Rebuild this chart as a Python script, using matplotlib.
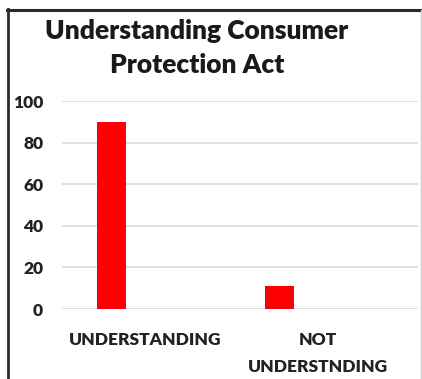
import matplotlib.pyplot as plt
from matplotlib.lines import Line2D

categories = ['UNDERSTANDING', 'NOT\nUNDERSTNDING']
values = [90, 11]
yticks = [0, 20, 40, 60, 80, 100]

W, H = 422, 379
fig = plt.figure(figsize=(W / 100, H / 100), dpi=100)
plt.rcParams['font.family'] = ['Lato', 'DejaVu Sans']

# plot area in pixels: x 62..418, y 101 (100) .. 309 (0)
ax = fig.add_axes([62 / W, (H - 309) / H, (418 - 62) / W, 208 / H])

xpos = list(range(len(categories)))
ax.bar(xpos, values, width=0.173, color='#ff0000', zorder=3)
ax.set_xlim(-0.296, 1.83)
ax.set_ylim(0, 100)
ax.set_yticks(yticks)
ax.set_yticklabels([str(v) for v in yticks], fontsize=12.5, fontweight='heavy', color='#222222')
ax.set_xticks([0.2, 1.23])
ax.set_xticklabels(categories, fontsize=12.5, fontweight='heavy', color='#222222', linespacing=1.85)
ax.tick_params(axis='both', length=0)
ax.tick_params(axis='y', pad=13.5)
ax.tick_params(axis='x', pad=16.5)
ax.grid(axis='y', color='#d9d9d9', linewidth=1.2, zorder=0)
for s in ax.spines.values():
    s.set_visible(False)

fig.text(197 / W, 1 - 48 / H, 'Understanding Consumer\nProtection Act', ha='center', va='center',
         fontsize=19, fontweight='heavy', color='#1a1a1a', linespacing=1.5)

# outer frame
fig.add_artist(Line2D([7.5 / W, 7.5 / W], [0, 1 - 9 / H], transform=fig.transFigure, color='#2a2a2a', linewidth=2))
fig.add_artist(Line2D([7 / W, 421 / W], [1 - 10 / H, 1 - 10 / H], transform=fig.transFigure, color='#2a2a2a', linewidth=2.2))
fig.add_artist(Line2D([420.5 / W, 420.5 / W], [0, 1 - 10 / H], transform=fig.transFigure, color='#cccccc', linewidth=1))

fig.savefig('out.png', dpi=100)
